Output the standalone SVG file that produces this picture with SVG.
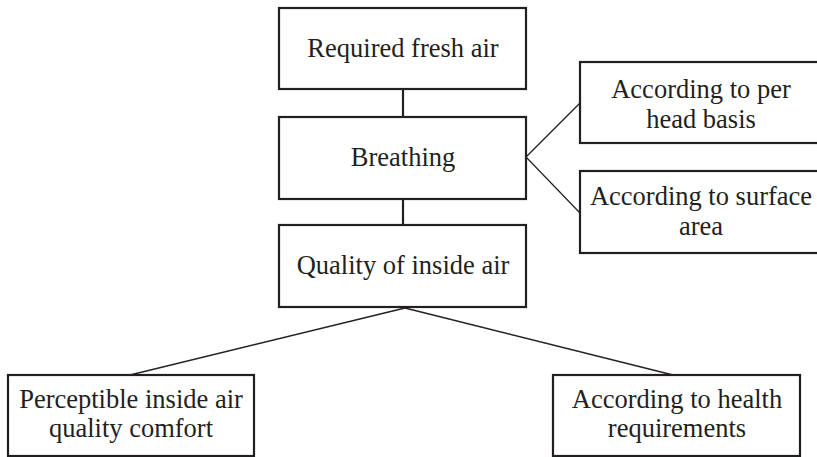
<svg xmlns="http://www.w3.org/2000/svg" width="817" height="457" viewBox="0 0 817 457">
<style>
.box{fill:#fff;stroke:#231f20;stroke-width:2.2}
.t{font-size:26.5px;fill:#231f20;text-anchor:middle}
.c{stroke:#231f20;fill:none}
</style>
<rect width="817" height="457" fill="#fff"/>
<g id="connectors">
<line class="c" x1="403" y1="89" x2="403" y2="117" stroke-width="2.2"/>
<line class="c" x1="403" y1="199" x2="403" y2="225" stroke-width="2.2"/>
<line class="c" x1="526" y1="157" x2="580" y2="103" stroke-width="1.2"/>
<line class="c" x1="526" y1="157" x2="580" y2="213" stroke-width="1.2"/>
<line class="c" x1="405" y1="308" x2="130" y2="375" stroke-width="1.4"/>
<line class="c" x1="405" y1="308" x2="673" y2="375" stroke-width="1.4"/>
</g>
<g font-family="Liberation Serif, Times New Roman, DejaVu Serif, serif">
<g id="n1"><rect class="box" x="279" y="8" width="247" height="81"/><text class="t" x="403" y="57">Required fresh air</text></g>
<g id="n2"><rect class="box" x="279" y="117" width="247" height="82"/><text class="t" x="403" y="166">Breathing</text></g>
<g id="n3"><rect class="box" x="279" y="225" width="247" height="82"/><text class="t" x="403" y="274">Quality of inside air</text></g>
<g id="n4"><rect class="box" x="580" y="62" width="245" height="81"/><text class="t" x="701" y="98">According to per</text><text class="t" x="701" y="128">head basis</text></g>
<g id="n5"><rect class="box" x="580" y="171" width="245" height="82"/><text class="t" x="701" y="205">According to surface</text><text class="t" x="701" y="235">area</text></g>
<g id="n6"><rect class="box" x="8" y="375" width="246" height="81"/><text class="t" x="131" y="408">Perceptible inside air</text><text class="t" x="131" y="437">quality comfort</text></g>
<g id="n7"><rect class="box" x="553" y="375" width="247" height="81"/><text class="t" x="677" y="408">According to health</text><text class="t" x="677" y="437">requirements</text></g>
</g>
</svg>
